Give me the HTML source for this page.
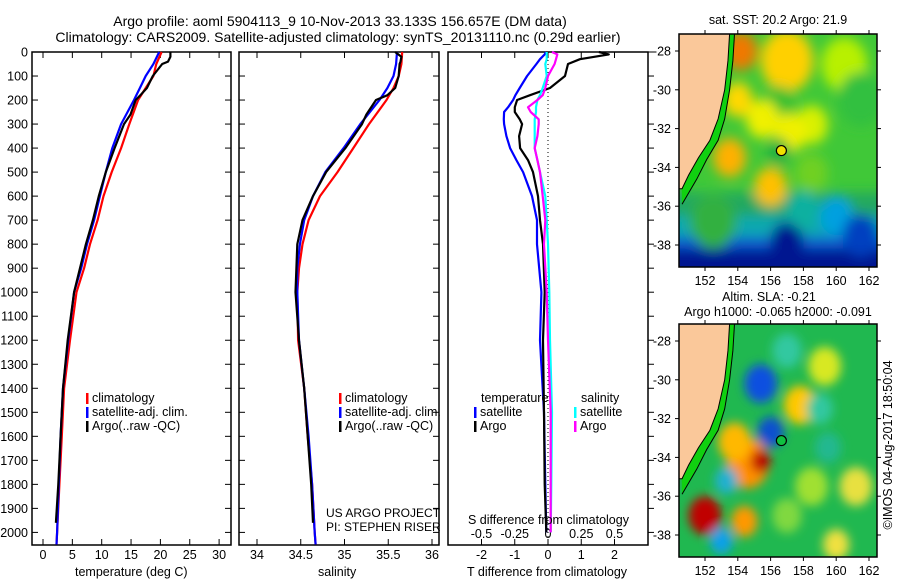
<!DOCTYPE html>
<html><head><meta charset="utf-8"><style>
html,body{margin:0;padding:0;background:#fff;}
svg{display:block;font-family:"Liberation Sans",sans-serif;}
</style></head><body>
<svg id="root" width="900" height="580" viewBox="0 0 900 580" xmlns="http://www.w3.org/2000/svg">
<defs>
<filter id="blur1" x="-50%" y="-50%" width="200%" height="200%"><feGaussianBlur stdDeviation="6"/></filter>
<filter id="blur2" x="-50%" y="-50%" width="200%" height="200%"><feGaussianBlur stdDeviation="5"/></filter>
<clipPath id="clipMap1"><rect x="679" y="34" width="198" height="233"/></clipPath>
<clipPath id="clipMap2"><rect x="679" y="324" width="198" height="233"/></clipPath>
</defs>
<text x="340" y="26" font-size="14" text-anchor="middle">Argo profile: aoml 5904113_9 10-Nov-2013 33.133S 156.657E (DM data)</text>
<text x="338" y="42" font-size="14" text-anchor="middle">Climatology: CARS2009. Satellite-adjusted climatology: synTS_20131110.nc (0.29d earlier)</text>
<g id="g"></g>
<text x="75" y="576" font-size="12.5">temperature (deg C)</text>
<text x="318" y="576" font-size="12.5">salinity</text>
<text x="467" y="576" font-size="12.5">T difference from climatology</text>
<text x="468" y="524" font-size="12.5">S difference from climatology</text>
<text x="326" y="517" font-size="12">US ARGO PROJECT</text>
<text x="326" y="531" font-size="12">PI: STEPHEN RISER</text>
<text x="778" y="24" font-size="12.5" text-anchor="middle">sat. SST: 20.2 Argo: 21.9</text>
<text x="769" y="301" font-size="12.5" text-anchor="middle">Altim. SLA: -0.21</text>
<text x="778" y="316" font-size="12.5" text-anchor="middle">Argo h1000: -0.065 h2000: -0.091</text>
<text transform="translate(892,445) rotate(-90)" font-size="12.5" text-anchor="middle">©IMOS 04-Aug-2017 18:50:04</text>
</svg>
<script>
const depths = [0,50,100,150,200,300,400,500,600,700,800,900,1000,1200,1400,1600,1800,2000,2050];
const tempClim = [20.2,19.3,18.8,17.5,16.2,14.7,13.3,11.7,10.3,9.3,8.0,7.0,5.7,4.6,3.6,3.2,2.8,2.4,2.3];
const tempSat  = [19.8,18.8,17.5,16.5,15.5,13.3,11.8,10.7,9.7,8.7,7.5,6.5,5.3,4.3,3.4,3.0,2.7,2.4,2.3];
const argoDepths = [0,20,40,50,100,150,180,200,260,300,400,500,600,700,800,900,1000,1200,1400,1600,1800,1960];
const tempArgo = [21.7,21.7,21.3,20.3,18.7,17.7,16.6,15.8,14.9,13.8,12.2,10.7,9.5,8.5,7.3,6.3,5.3,4.2,3.4,3.0,2.6,2.2];
const salClim = [35.66,35.65,35.62,35.56,35.48,35.28,35.10,34.92,34.72,34.59,34.52,34.48,34.46,34.47,34.54,34.58,34.63,34.66,34.67];
const salSat  = [35.60,35.59,35.56,35.49,35.40,35.18,34.99,34.78,34.64,34.54,34.49,34.46,34.46,34.48,34.54,34.59,34.63,34.66,34.67];
const salArgo = [35.58,35.65,35.64,35.63,35.62,35.58,35.49,35.36,35.25,35.20,35.01,34.79,34.64,34.52,34.46,34.45,34.44,34.48,34.54,34.58,34.62,34.64];
const diffDepths = [0,10,30,50,100,150,180,200,230,250,280,300,350,400,450,500,600,700,800,1000,1200,1500,1800,2000];
const dTSat  = [-0.06,-0.1,-0.24,-0.35,-0.63,-0.85,-0.98,-1.05,-1.2,-1.32,-1.33,-1.32,-1.25,-1.14,-0.95,-0.75,-0.48,-0.33,-0.33,-0.2,-0.24,-0.12,-0.08,-0.05];
const dTArgo = [1.53,1.83,0.96,0.6,0.51,0.06,-0.54,-0.93,-1.0,-1.0,-0.85,-0.78,-0.87,-0.84,-0.6,-0.45,-0.3,-0.24,-0.15,-0.1,-0.15,-0.12,-0.1,-0.05];
const dSSat  = [-0.01,-0.01,-0.01,-0.02,-0.01,-0.04,-0.06,-0.08,-0.09,-0.09,-0.1,-0.1,-0.1,-0.1,-0.08,-0.06,-0.02,-0.01,0.0,0.01,0.015,0.03,0.025,0.02];
const dSArgo = [0.03,0.07,0.06,0.05,0.0,-0.02,-0.04,-0.08,-0.15,-0.13,-0.07,-0.07,-0.08,-0.1,-0.08,-0.06,-0.04,-0.02,-0.03,-0.01,0.0,0.02,0.02,0.02];
const depthTicks = [0,100,200,300,400,500,600,700,800,900,1000,1100,1200,1300,1400,1500,1600,1700,1800,1900,2000];
const tempTicks = [0,5,10,15,20,25,30];
const salTicks = [34,34.5,35,35.5,36];
const salTickLabels = ["34","34.5","35","35.5","36"];
const dTTicks = [-2,-1,0,1,2];
const dSTicks = [-0.5,-0.25,0,0.25,0.5];
const dSTickLabels = ["-0.5","-0.25","0","0.25","0.5"];
const mapLonTicks = [152,154,156,158,160,162];
const mapLatTicks = [-28,-30,-32,-34,-36,-38];
const coastLon = [150.6,151.0,151.6,152.3,152.8,153.2,153.4,153.5];
const coastLat = [-35.1,-34.4,-33.5,-32.6,-31.5,-30.0,-28.5,-27.1];
const shelfLon = [150.6,151.5,152.1,152.8,153.2,153.5,153.7,153.8];
const shelfLat = [-35.9,-34.6,-33.6,-32.6,-31.5,-30.0,-28.5,-27.1];
// SST map field (approximate)
const sstBandLat = [-35.3,-36.5,-37.6,-38.2];
const sstBandC = ["#20a860","#10a8b0","#0858d0","#001890"];
const sstBlobLon = [154.2,157,160.5,156.5,158.5,161.5,157.2,155.5,153.5,156,158.5,154,152.5,157,160,161.5,156.5,158];
const sstBlobLat = [-28.0,-28.5,-28.7,-30.8,-31.8,-30.5,-32.2,-31.5,-33.5,-35.0,-34.3,-30.5,-36.8,-37.8,-36.5,-37.5,-33.2,-36.2];
const sstBlobR = [1.0,1.6,1.4,1.0,1.0,1.4,1.0,1.0,1.0,1.0,1.0,0.9,1.4,1.0,1.0,1.1,0.7,1.0];
const sstBlobC = ["#f07800","#ffd000","#b8f000","#30c030","#d8f000","#30c040","#f0f000","#f0f000","#ffb000","#ffc000","#70d020","#ffd800","#30b040","#001890","#00a0e0","#0040c0","#20b040","#10b0a0"];
// SLA map field (approximate)
const slaBlobLon = [155.4,156,154.6,155.4,153.8,152,154.4,157.8,159.3,161.2,153,157,159,157,160,158.5,153.3,159.5];
const slaBlobLat = [-30.2,-32.7,-34.3,-34.2,-33.2,-37,-37.3,-31.3,-29.3,-35.5,-38.3,-28.5,-31.5,-37,-38.5,-35.5,-35.2,-33.5];
const slaBlobR = [1.0,0.8,1.3,0.6,1.0,1.0,0.8,1.0,1.0,1.0,0.7,0.9,0.8,0.9,0.8,1.0,0.7,0.8];
const slaBlobC = ["#1050e0","#1050d0","#ff9000","#c00000","#ffb800","#c00000","#ff9800","#ffc800","#d8e820","#e8e040","#10a0e8","#30c8a0","#30c8a0","#80d840","#f0e040","#a0e030","#20b0d0","#20b890"];

const NS="http://www.w3.org/2000/svg";
const g=document.getElementById('g');
function el(tag,attrs,parent){const e=document.createElementNS(NS,tag);for(const k in attrs)e.setAttribute(k,attrs[k]);(parent||g).appendChild(e);return e;}
const yD=d=>52+0.2402*d;
const xT=t=>43+5.87*t;
const xS=s=>257+87.5*(s-34);
const xdT=t=>548+33.25*t;
const xdS=s=>548+133*s;
const panels=[[32,231],[239,439],[448,648]];
panels.forEach((p,i)=>{
  const r=el('rect',{x:p[0],y:52,width:p[1]-p[0],height:493,fill:'none',stroke:'#000','stroke-width':1.5});
  
  
});
depthTicks.forEach(d=>{
  const t=el('text',{x:28,y:yD(d)+4.5,'font-size':12.5,'text-anchor':'end'});t.textContent=d;
  
  
  [[32,38],[225,231],[239,245],[433,439],[648,654]].forEach(a=>{const l=el('line',{x1:a[0],x2:a[1],y1:yD(d),y2:yD(d),stroke:'#000','stroke-width':1});
    
    });
});
function xticks(vals,labels,fx,y,top){
  vals.forEach((v,i)=>{const x=fx(v);
    el('line',{x1:x,x2:x,y1:545,y2:539,stroke:'#000'});
    if(top) el('line',{x1:x,x2:x,y1:52,y2:58,stroke:'#000'});
    const t=el('text',{x:x,y:y,'font-size':12.5,'text-anchor':'middle'});t.textContent=labels[i];
    
    });
}
xticks(tempTicks,tempTicks.map(String),xT,559,true);
xticks(salTicks,salTickLabels,xS,559,true);
xticks(dTTicks,dTTicks.map(String),xdT,559,true);
dSTicks.forEach((v,i)=>{const t=el('text',{x:xdS(v),y:538,'font-size':12.5,'text-anchor':'middle'});t.textContent=dSTickLabels[i];
  
  });
const zl=el('line',{x1:548,x2:548,y1:52,y2:545,stroke:'#000','stroke-dasharray':'1,3'});


function line(ds,vs,fx,color,name){
  const pts=ds.map((d,i)=>fx(vs[i]).toFixed(1)+','+yD(d).toFixed(1)).join(' ');
  const p=el('polyline',{points:pts,fill:'none',stroke:color,'stroke-width':2.2,'stroke-linejoin':'round'});
  
  
}
line(depths,tempClim,xT,'#f00','temp-climatology-line');
line(depths,tempSat,xT,'#00f','temp-satellite-line');
line(argoDepths,tempArgo,xT,'#000','temp-argo-line');
line(depths,salClim,xS,'#f00','sal-climatology-line');
line(depths,salSat,xS,'#00f','sal-satellite-line');
line(argoDepths,salArgo,xS,'#000','sal-argo-line');
line(diffDepths,dTSat,xdT,'#00f','tdiff-satellite-line');
line(diffDepths,dTArgo,xdT,'#000','tdiff-argo-line');
line(diffDepths,dSSat,xdS,'#0ff','sdiff-satellite-line');
line(diffDepths,dSArgo,xdS,'#f0f','sdiff-argo-line');
function legend(x,y,color,label){
  el('rect',{x:x,y:y-9,width:2.5,height:11,fill:color});
  const t=el('text',{x:x+6,y:y,'font-size':12.5});t.textContent=label;
  
  
}
[86,339].forEach(x=>{
  legend(x,402,'#f00','climatology');legend(x,416,'#00f','satellite-adj. clim.');legend(x,430,'#000','Argo(..raw -QC)');});
const tl=el('text',{x:481,y:402,'font-size':12.5});tl.textContent='temperature';


const sl=el('text',{x:581,y:402,'font-size':12.5});sl.textContent='salinity';


legend(474,416,'#00f','satellite');legend(474,430,'#000','Argo');
legend(574,416,'#0ff','satellite');legend(574,430,'#f0f','Argo');

function map(y0,clip,base,bandLat,bandC,lons,lats,rs,cs,blurId,name){
  const mx=lon=>705+16.4*(lon-152);
  const my=lat=>y0+17+19.4*(-28-lat);
  const grp=el('g',{'clip-path':'url(#'+clip+')'});
  
  
  el('rect',{x:679,y:y0,width:198,height:233,fill:base},grp);
  const bl=el('g',{filter:'url(#'+blurId+')'},grp);
  bandLat.forEach((la,i)=>{el('rect',{x:660,y:my(la),width:240,height:300,fill:bandC[i]},bl);});
  lons.forEach((lo,i)=>{el('ellipse',{cx:mx(lo),cy:my(lats[i]),rx:rs[i]*16.4,ry:rs[i]*19.4,fill:cs[i]},bl);});
  const shelf=shelfLon.map((lo,i)=>mx(lo)+','+my(shelfLat[i])).join(' ');
  el('polygon',{points:shelf+' 679,'+y0,fill:'#10d010'},grp);
  const land=coastLon.map((lo,i)=>mx(lo)+','+my(coastLat[i])).join(' ');
  el('polygon',{points:'679,'+my(-35.1)+' '+land+' 679,'+y0,fill:'#fac89a',stroke:'#000','stroke-width':1},grp);
  el('polyline',{points:shelf,fill:'none',stroke:'#000','stroke-width':1},grp);
  el('rect',{x:679,y:y0,width:198,height:233,fill:'none',stroke:'#000','stroke-width':1.5});
  const fl=name==='sst-map'?'#f0e000':'#10c040';
  const c=el('circle',{cx:mx(156.657),cy:my(-33.133),r:5,fill:fl,stroke:'#000','stroke-width':1.2});
  
  
  mapLonTicks.forEach(lo=>{const x=mx(lo);el('line',{x1:x,x2:x,y1:y0,y2:y0-4,stroke:'#000'});el('line',{x1:x,x2:x,y1:y0+233,y2:y0+237,stroke:'#000'});
    const t=el('text',{x:x,y:y0+251,'font-size':12.5,'text-anchor':'middle'});t.textContent=lo;
    
    });
  mapLatTicks.forEach(la=>{const y=my(la);el('line',{x1:675,x2:679,y1:y,y2:y,stroke:'#000'});el('line',{x1:877,x2:881,y1:y,y2:y,stroke:'#000'});
    const t=el('text',{x:671,y:y+4.5,'font-size':12.5,'text-anchor':'end'});t.textContent=la;
    
    });
}
map(34,'clipMap1','#40c838',sstBandLat,sstBandC,sstBlobLon,sstBlobLat,sstBlobR,sstBlobC,'blur1','sst-map');
map(324,'clipMap2','#20b850',[],[],slaBlobLon,slaBlobLat,slaBlobR,slaBlobC,'blur2','sla-map');
</script>
</body></html>
